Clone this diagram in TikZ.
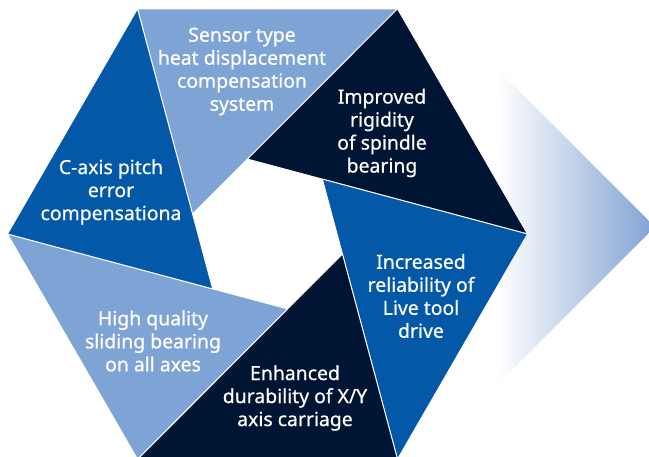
\documentclass[tikz,border=0pt]{standalone}
\usepackage{fontspec}
\setmainfont{Noto Sans}[FakeBold=0.5]
\newfontfamily\lblfont{Noto Sans}[FakeBold=0.6]
\usetikzlibrary{calc}
\definecolor{lblue}{HTML}{7EA3D5}
\definecolor{mblue}{HTML}{0458A8}
\definecolor{navy}{HTML}{001533}
\definecolor{arrowend}{HTML}{7FA2D3}
\tikzset{
  seg/.style={draw=white, line width=0.9pt, line join=round},
  lbl/.style={text=white, align=center, inner sep=0pt, font=\lblfont\fontsize{19.4}{23}\selectfont}
}
\begin{document}
\begin{tikzpicture}[x=1pt,y=1pt]
\useasboundingbox (0,0) rectangle (649,457);
\coordinate (C) at (267.5,223);
% right arrow
\coordinate (ap) at (655,230);
\coordinate (at) at (497,388);
\coordinate (ab) at (497,72);
\shade[left color=white, right color=arrowend] (at) -- (ap) -- (ab) -- cycle;
% outer vertices
\foreach \a/\n in {0/o0,60/o60,120/o120,180/o180,240/o240,300/o300}
  \coordinate (\n) at ($(C)+(\a:260)$);
% inner vertices
\foreach \a/\n in {165/i0,105/i1,45/i2,-15/i3,-75/i4,225/i5}
  \coordinate (\n) at ($(C)+(\a:77.6)$);
\fill[lblue, seg] (o120) -- (o60) -- (i0) -- cycle;
\fill[navy, seg] (o60) -- (o0) -- (i1) -- cycle;
\fill[mblue, seg] (o0) -- (o300) -- (i2) -- cycle;
\fill[navy, seg] (o300) -- (o240) -- (i3) -- cycle;
\fill[lblue, seg] (o240) -- (o180) -- (i4) -- cycle;
\fill[mblue, seg] (o180) -- (o120) -- (i5) -- cycle;
% labels
\node[lbl] (t1) at (242,385.5) {Sensor type\\heat displacement\\compensation\\system};
\node[lbl] (t2) at (382,324) {Improved\\rigidity\\of spindle\\bearing};
\node[lbl] (t3) at (111,265) {C-axis pitch\\error\\compensationa};
\node[lbl] (t4) at (421,161) {Increased\\reliability of\\Live tool\\drive};
\node[lbl] (t5) at (153,116) {High quality\\sliding bearing\\on all axes};
\node[lbl] (t6) at (295,59) {Enhanced\\durability of X/Y\\axis carriage};
\end{tikzpicture}
\end{document}
